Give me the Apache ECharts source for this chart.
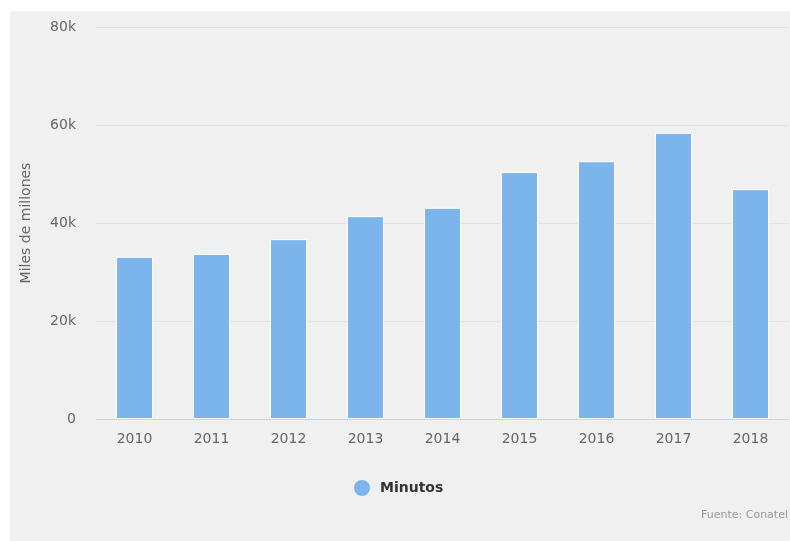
<!DOCTYPE html>
<html>
<head>
<meta charset="utf-8">
<script src="https://cdn.jsdelivr.net/npm/echarts@6/dist/echarts.min.js"></script>
<style>
  html, body { margin: 0; padding: 0; background: #ffffff; }
  #chart { position: absolute; left: 10px; top: 11px; width: 780px; height: 530px; }
</style>
</head>
<body>
<div id="chart"></div>
<script>
  const years = ['2010', '2011', '2012', '2013', '2014', '2015', '2016', '2017', '2018'];
  const minutos = [33100, 33700, 36700, 41400, 43100, 50400, 52600, 58400, 46900];
  const yTicks = [0, 20000, 40000, 60000, 80000];

  const myChart = echarts.init(document.getElementById('chart'));
  myChart.setOption({
    backgroundColor: '#f0f0f0',
    animation: false,
    textStyle: {fontFamily: 'DejaVu Sans'},
    grid: {left: 86, right: 1, top: 16, bottom: 122, containLabel: false, outerBoundsMode: 'none'},
    legend: {
      left: 339,
      top: 464,
      icon: 'circle',
      itemWidth: 16,
      itemHeight: 16,
      itemGap: 10,
      itemStyle: {borderWidth: 0},
      textStyle: {color: '#333333', fontSize: 14, fontWeight: 'bold', padding: [0, 0, 0, 5]},
      data: ['Minutos']
    },
    graphic: [{
      type: 'text',
      right: 2,
      bottom: 20,
      style: {text: 'Fuente: Conatel', fill: '#999999', fontSize: 11, fontFamily: 'DejaVu Sans'}
    }],
    xAxis: {
      type: 'category',
      data: years,
      axisLine: {lineStyle: {color: '#ccd6eb'}},
      axisTick: {show: false},
      axisLabel: {color: '#666666', fontSize: 14, margin: 13}
    },
    yAxis: {
      type: 'value',
      min: yTicks[0],
      max: yTicks[yTicks.length - 1],
      interval: yTicks[1] - yTicks[0],
      name: 'Miles de millones',
      nameLocation: 'middle',
      nameRotate: 90,
      nameGap: 63,
      nameTextStyle: {color: '#666666', fontSize: 14},
      splitLine: {lineStyle: {color: '#e2e2e2'}},
      axisLine: {show: false},
      axisTick: {show: false},
      axisLabel: {
        color: '#666666',
        fontSize: 14,
        margin: 20,
        formatter(val) {
          return val === 0 ? '0' : (val / 1000) + 'k';
        }
      }
    },
    series: [{
      name: 'Minutos',
      type: 'bar',
      data: minutos,
      barWidth: 37,
      itemStyle: {color: '#7cb5ec', borderColor: '#ffffff', borderWidth: 1}
    }]
  });
</script>
</body>
</html>
